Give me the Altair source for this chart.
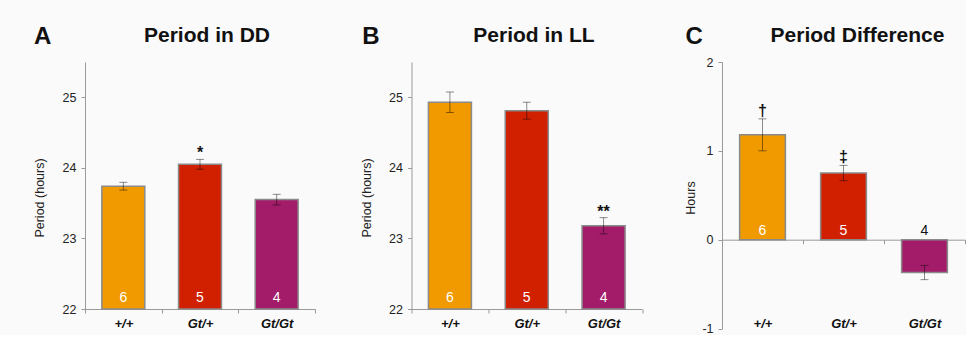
import altair as alt
import pandas as pd

genotypes = ["+/+", "Gt/+", "Gt/Gt"]
counts = [6, 5, 4]

dd_means = [23.74, 24.05, 23.55]
dd_sem = [0.055, 0.07, 0.075]
dd_sig = ["", "*", ""]

ll_means = [24.93, 24.81, 23.18]
ll_sem = [0.145, 0.12, 0.115]
ll_sig = ["", "", "**"]

diff_means = [1.18, 0.75, -0.37]
diff_sem = [0.18, 0.086, 0.08]
diff_sig = ["\u2020", "\u2021", ""]

bar_colors = ["#F09A00", "#D02000", "#A31C6A"]
panel_letters = ["A", "B", "C"]
panel_titles = ["Period in DD", "Period in LL", "Period Difference"]
y_titles = ["Period (hours)", "Period (hours)", "Hours"]

FONT = "Liberation Sans"
AXIS_GRAY = "#9a9a9a"


def panel(means, sems, sigs, letter, title, ytitle, ydomain, yticks, base,
          width, height, bar_frac, count_dy, sig_dy, x_offset, x_label_pad,
          title_x, letter_x, heading_x):
    df = pd.DataFrame({
        "g": genotypes,
        "mean": means,
        "lo": [m - s for m, s in zip(means, sems)],
        "hi": [m + s for m, s in zip(means, sems)],
        "n": counts,
        "sig": sigs,
        "base": [base] * len(genotypes),
    })
    x = alt.X(
        "g:N", sort=genotypes,
        scale=alt.Scale(paddingInner=0, paddingOuter=0),
        axis=alt.Axis(
            title=None, labelFont=FONT, labelFontSize=13, labelFontWeight="bold",
            labelFontStyle="italic", labelColor="#111", labelAngle=0,
            domainColor=AXIS_GRAY, tickColor=AXIS_GRAY, tickSize=4,
            tickBand="extent", labelPadding=x_label_pad, offset=x_offset,
        ),
    )
    yscale = alt.Scale(domain=ydomain, nice=False, zero=False)
    y = alt.Y(
        "mean:Q", scale=yscale,
        axis=alt.Axis(
            values=yticks, labelExpr="datum.value + ''", title=ytitle, grid=False,
            labelFont=FONT, labelFontSize=12.5, labelColor="#222", labelPadding=5,
            domainColor=AXIS_GRAY, tickColor=AXIS_GRAY, tickSize=4,
            titleFont=FONT, titleFontSize=12.5, titleFontWeight="normal",
            titleColor="#222", titleX=title_x, titleY=135.5,
        ),
    )
    base_chart = alt.Chart(df)
    bars = base_chart.mark_bar(
        width=alt.RelativeBandSize(bar_frac), stroke="#8a8a8a", strokeWidth=1.5
    ).encode(
        x=x, y=y, y2="base:Q",
        color=alt.Color("g:N", scale=alt.Scale(domain=genotypes, range=bar_colors), legend=None),
    )
    err = base_chart.mark_rule(color="black", opacity=0.45, strokeWidth=1).encode(
        x=alt.X("g:N", sort=genotypes), y=alt.Y("lo:Q", scale=yscale), y2="hi:Q"
    )
    cap_lo = base_chart.mark_tick(color="black", opacity=0.45, size=8, thickness=1).encode(
        x=alt.X("g:N", sort=genotypes), y=alt.Y("lo:Q", scale=yscale)
    )
    cap_hi = base_chart.mark_tick(color="black", opacity=0.45, size=8, thickness=1).encode(
        x=alt.X("g:N", sort=genotypes), y=alt.Y("hi:Q", scale=yscale)
    )
    nums = base_chart.mark_text(font=FONT, fontSize=14, baseline="middle", dy=count_dy).encode(
        x=alt.X("g:N", sort=genotypes), y=alt.Y("base:Q", scale=yscale), text="n:Q",
        color=alt.condition(alt.datum.mean < 0, alt.value("#111"), alt.value("white")),
    )
    sig = base_chart.mark_text(font=FONT, fontSize=16, fontWeight="bold", baseline="alphabetic",
                               dy=sig_dy, color="#111").encode(
        x=alt.X("g:N", sort=genotypes), y=alt.Y("hi:Q", scale=yscale), text="sig:N"
    )
    head_df = pd.DataFrame({"letter": [letter], "title": [title]})
    letter_txt = alt.Chart(head_df).mark_text(
        font=FONT, fontSize=24, fontWeight="bold", align="left", baseline="alphabetic", color="#111"
    ).encode(x=alt.value(letter_x), y=alt.value(-18.4), text="letter:N")
    heading_txt = alt.Chart(head_df).mark_text(
        font=FONT, fontSize=21, fontWeight="bold", align="center", baseline="alphabetic", color="#111"
    ).encode(x=alt.value(heading_x), y=alt.value(-20.3), text="title:N")
    return alt.layer(bars, err, cap_lo, cap_hi, nums, sig, letter_txt, heading_txt).properties(
        width=width, height=height
    )


pa = panel(dd_means, dd_sem, dd_sig, panel_letters[0], panel_titles[0], y_titles[0],
           [22, 25.5], [22, 23, 24, 25], 22, 230, 247, 0.56, -11, -1, 0, 4,
           -38.5, -51, 122)
pb = panel(ll_means, ll_sem, ll_sig, panel_letters[1], panel_titles[1], y_titles[1],
           [22, 25.5], [22, 23, 24, 25], 22, 230.5, 247, 0.56, -11, -1, 0, 4,
           -38, -49.3, 122.5)
pc = panel(diff_means, diff_sem, diff_sig, panel_letters[2], panel_titles[2], y_titles[2],
           [-1, 2], [-1, 0, 1, 2], 0, 243, 266.5, 0.565, -9, -3, -88.8, 74,
           -24.6, -36.6, 135.5)

chart = alt.hconcat(alt.hconcat(pa, pb, spacing=44.5), pc, spacing=41).properties(
    padding={"left": 33, "top": 24, "right": 0, "bottom": 0},
    background="#fafafa",
).configure_view(stroke=None)

chart.save("out.html", embed_options={"renderer": "svg", "actions": False})
